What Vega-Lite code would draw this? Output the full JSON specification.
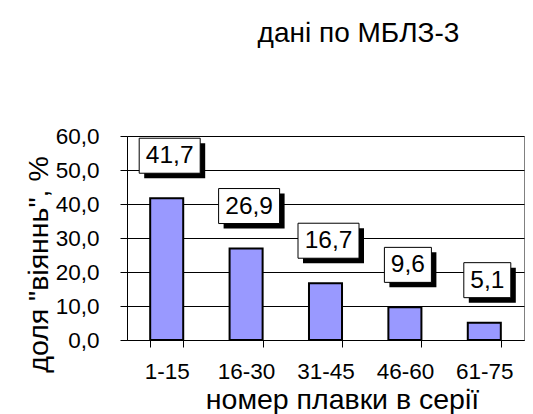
{
  "$schema": "https://vega.github.io/schema/vega-lite/v6.json",
  "width": 397,
  "height": 204,
  "autosize": {"type": "none"},
  "padding": {"left": 127, "top": 136, "right": 9, "bottom": 74},
  "background": "white",
  "config": {
    "locale": {"number": {"decimal": ",", "thousands": " ", "grouping": [3], "currency": ["", ""]}},
    "font": "Liberation Sans",
    "view": {"stroke": "#808080", "strokeWidth": 1},
    "axis": {
      "domainColor": "#000",
      "domainWidth": 1,
      "tickColor": "#000",
      "tickWidth": 1,
      "tickSize": 7,
      "labelColor": "#000",
      "labelFont": "Liberation Sans",
      "labelFontSize": 22.5,
      "titleColor": "#000",
      "titleFont": "Liberation Sans",
      "titleFontSize": 28.5,
      "titleFontWeight": "normal"
    }
  },
  "title": {
    "text": "дані по МБЛЗ-3",
    "font": "Liberation Sans",
    "fontSize": 28,
    "fontWeight": "normal",
    "color": "#000",
    "anchor": "middle",
    "frame": "group",
    "dx": 33,
    "baseline": "alphabetic",
    "offset": 55
  },
  "data": {
    "values": [
      {"series": "1-15", "value": 41.7},
      {"series": "16-30", "value": 26.9},
      {"series": "31-45", "value": 16.7},
      {"series": "46-60", "value": 9.6},
      {"series": "61-75", "value": 5.1}
    ]
  },
  "encoding": {
    "x": {
      "field": "series",
      "type": "nominal",
      "sort": null,
      "scale": {"paddingInner": 0.584, "paddingOuter": 0.292},
      "axis": {
        "title": "номер плавки в серії",
        "labelAngle": 0,
        "tickBand": "extent",
        "grid": false,
        "labelPadding": 31,
        "labelBaseline": "alphabetic",
        "titleX": 215,
        "titleY": 68,
        "titleBaseline": "alphabetic",
        "titleAlign": "center"
      }
    },
    "y": {
      "field": "value",
      "type": "quantitative",
      "scale": {"domain": [0, 60], "nice": false, "zero": true},
      "axis": {
        "title": "доля \"віяннь\", %",
        "values": [0, 10, 20, 30, 40, 50, 60],
        "format": ".1f",
        "grid": true,
        "gridColor": "#000",
        "gridWidth": 1,
        "labelPadding": 21,
        "labelBaseline": "middle",
        "titleX": -80,
        "titleY": 128,
        "titleAngle": 270,
        "titleAlign": "center",
        "titleBaseline": "alphabetic"
      }
    }
  },
  "layer": [
    {
      "mark": {"type": "bar", "fill": "#9999FF", "stroke": "#000", "strokeWidth": 2}
    },
    {
      "transform": [{"filter": "datum.value >= 10"}],
      "mark": {"type": "bar", "fill": "#000", "width": 61, "xOffset": 8, "yOffset": -55, "y2Offset": -20},
      "encoding": {"y2": {"field": "value"}}
    },
    {
      "transform": [{"filter": "datum.value < 10"}],
      "mark": {"type": "bar", "fill": "#000", "width": 47, "xOffset": 8, "yOffset": -55, "y2Offset": -20},
      "encoding": {"y2": {"field": "value"}}
    },
    {
      "transform": [{"filter": "datum.value >= 10"}],
      "mark": {"type": "bar", "fill": "#fff", "stroke": "#000", "strokeWidth": 1, "width": 61, "xOffset": 3, "yOffset": -60, "y2Offset": -25},
      "encoding": {"y2": {"field": "value"}}
    },
    {
      "transform": [{"filter": "datum.value < 10"}],
      "mark": {"type": "bar", "fill": "#fff", "stroke": "#000", "strokeWidth": 1, "width": 47, "xOffset": 3, "yOffset": -60, "y2Offset": -25},
      "encoding": {"y2": {"field": "value"}}
    },
    {
      "mark": {"type": "text", "font": "Liberation Sans", "fontSize": 24.5, "color": "#000", "baseline": "middle", "align": "center", "xOffset": 3, "yOffset": -42},
      "encoding": {"text": {"field": "value", "type": "quantitative", "format": ".1f"}}
    }
  ]
}
